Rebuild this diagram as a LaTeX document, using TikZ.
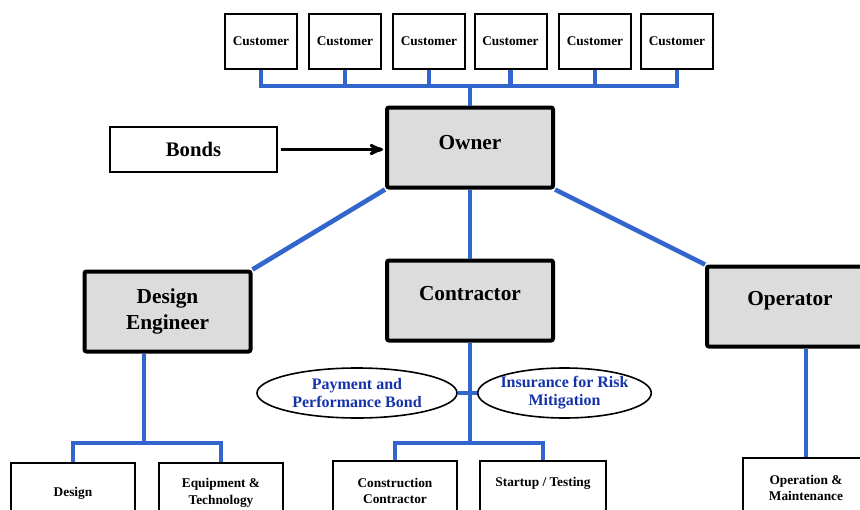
\documentclass[tikz,border=0pt]{standalone}
\usepackage{fontspec}
\setmainfont{Liberation Serif}
\usetikzlibrary{arrows,shapes.geometric}
\definecolor{linkblue}{RGB}{51,102,204}
\definecolor{notetext}{RGB}{20,50,170}
\definecolor{boxgray}{RGB}{220,220,220}

\begin{document}
\begin{tikzpicture}[x=0.75pt,y=-0.75pt,>=stealth',
    party/.style={draw,line width=3pt,fill=boxgray,rounded corners=1.5pt,
      minimum width=124.5pt,minimum height=60pt,align=center,
      font=\bfseries\fontsize{16}{19}\selectfont},
    client/.style={draw,line width=1.5pt,minimum width=54pt,minimum height=41.25pt,
      font=\bfseries\fontsize{10}{12}\selectfont},
    task/.style={draw,line width=1.5pt,anchor=north,minimum width=93pt,minimum height=45pt,
      align=center,font=\bfseries\fontsize{10}{12.5}\selectfont},
    note/.style={draw,ellipse,line width=1.2pt,inner ysep=0pt,inner xsep=-2pt,
      minimum height=37.5pt,align=center,text=notetext,
      font=\bfseries\fontsize{12}{13.5}\selectfont},
    link/.style={draw=linkblue,line width=3.5pt}]

  \useasboundingbox (0,0) rectangle (860,510);

  % top row
  \foreach \i/\x in {1/261,2/345,3/429,4/510.5,5/595,6/677}
    \node[client] (c\i) at (\x,41.5) {Customer};

  \node[party,text depth=7pt] (own) at (470,147.5) {Owner};
  \node[draw,line width=1.5pt,minimum width=125.25pt,minimum height=33.75pt,
    font=\bfseries\fontsize{15.5}{19}\selectfont] (bonds) at (193.5,149.5) {Bonds};

  % second row
  \node[party] (de) at (167.5,311.5) {Design\\Engineer};
  \node[party,text depth=10.5pt] (ctr) at (470,300.5) {Contractor};
  \node[party,text depth=12pt] (opr) at (790,306.5) {Operator};

  \node[note,minimum width=150pt] (pay) at (357,393) {Payment and\\Performance Bond};
  \node[note] (ins) at (564.5,393) {Insurance for Risk\\Mitigation};

  % bottom row
  \node[task] (dsg) at (73,462) {Design};
  \node[task] (eqp) at (221,462) {Equipment \&\\Technology};
  \node[task] (cons) at (395,460) {Construction\\Contractor};
  \node[task,minimum width=94.5pt,text depth=14pt] (start) at (543,460) {Startup / Testing};
  \node[task,minimum width=94.5pt] (om) at (806,457) {Operation \&\\Maintenance};

  \coordinate (cbus) at (470,86);
  \coordinate (debus) at (144,443);
  \coordinate (kbus) at (470,443);

  % connectors
  \draw[link] (own.north) -- (cbus);
  \draw[link] (c1.south) |- (cbus) -| (c6.south);
  \foreach \i in {2,...,5}
    \draw[link] (c\i.south) -- (c\i.south |- cbus);

  \draw[->,line width=2.25pt,shorten <=2pt,shorten >=1.5pt]
    (bonds.east) -- (bonds.east -| own.west);

  \draw[link] (own.south west) -- (de.north east);
  \draw[link] (own.south) -- (ctr.north);
  \draw[link] (own.south east) -- (opr.north west);

  \draw[link] (de.south -| debus) -- (debus);
  \draw[link] (dsg.north) |- (debus) -| (eqp.north);
  \draw[link] (ctr.south) -- (kbus);
  \draw[link] (cons.north) |- (kbus) -| (start.north);
  \draw[link,line width=3pt] (pay.east) -- (ins.west);
  \draw[link] (om.north) -- (om.north |- opr.south);

\end{tikzpicture}
\end{document}
